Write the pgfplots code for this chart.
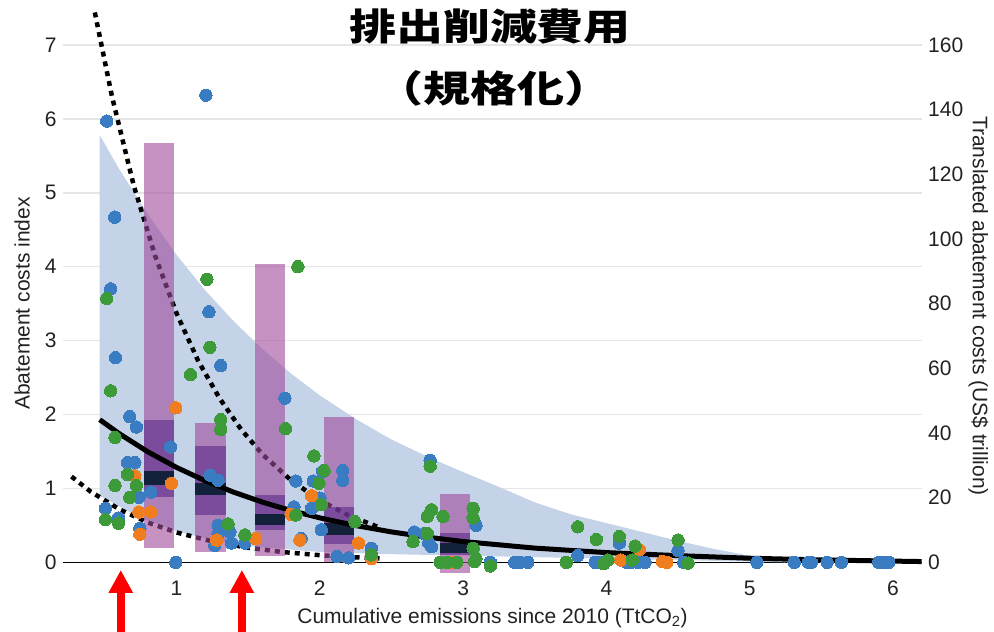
\documentclass[border=0pt]{standalone}
\usepackage{pgfplots}
\pgfplotsset{compat=1.18}
\usepackage{graphicx}
\usepackage{fontspec}
\setmainfont{Liberation Sans}
\newfontfamily\cjk{Noto Sans CJK JP}
\usetikzlibrary{arrows.meta}

\definecolor{bandblue}{HTML}{C5D3E8}
\definecolor{dotblue}{HTML}{3A7CC2}
\definecolor{dotgreen}{HTML}{3C9A38}
\definecolor{dotorange}{HTML}{F07D1E}
\definecolor{boxouter}{HTML}{A04A9A}
\definecolor{boxinner}{HTML}{5A2A8A}
\definecolor{boxmed}{HTML}{14213A}
\definecolor{gridgray}{HTML}{E6E6E6}
\definecolor{labelgray}{HTML}{222222}

\newcommand\lblfont{\fontsize{21bp}{25bp}\selectfont}

% scenario results, one table per model family
\pgfplotstableread{
x y
0.513 5.97
1.205 6.32
0.569 4.67
0.541 3.70
1.226 3.39
0.574 2.77
0.674 1.97
0.720 1.83
0.958 1.56
0.658 1.35
0.709 1.35
0.820 0.95
0.739 0.88
0.504 0.73
0.595 0.60
0.744 0.46
0.995 0.00
1.309 2.66
1.756 2.22
2.020 1.23
1.833 1.10
1.954 1.10
1.233 1.18
1.290 1.11
2.000 0.87
1.819 0.75
1.943 0.73
2.010 0.44
1.290 0.50
1.350 0.50
1.372 0.41
1.290 0.39
1.267 0.23
1.384 0.26
1.477 0.26
2.160 1.11
2.160 1.24
1.870 0.32
2.360 0.19
2.770 1.38
2.660 0.41
2.730 0.39
2.760 0.26
2.780 0.21
3.090 0.50
3.190 0.00
3.360 0.00
3.400 0.00
3.450 0.00
3.800 0.09
3.920 0.00
3.960 0.00
4.090 0.26
4.140 0.00
4.170 0.00
4.220 0.00
4.270 0.00
4.500 0.16
4.540 0.00
5.050 0.00
5.310 0.00
5.410 0.00
5.430 0.00
5.540 0.00
5.640 0.00
5.900 0.00
5.930 0.00
5.970 0.00
2.120 0.08
2.200 0.06
}\bluepts

\pgfplotstableread{
x y
0.513 3.57
1.212 3.83
1.847 4.00
0.541 2.32
1.098 2.54
0.571 1.69
0.658 1.19
0.571 1.04
0.720 1.04
0.674 0.88
0.504 0.58
0.595 0.53
1.233 2.91
1.309 1.93
1.309 1.80
1.761 1.81
1.959 1.44
1.994 1.07
2.010 0.78
1.833 0.64
1.360 0.52
1.477 0.37
2.030 1.24
2.245 0.55
2.360 0.10
2.770 1.30
2.780 0.71
2.750 0.62
2.860 0.62
2.750 0.39
2.650 0.28
3.070 0.73
3.070 0.60
3.090 0.05
3.070 0.19
2.840 0.00
2.885 0.00
2.955 0.00
3.080 0.01
3.190 -0.05
3.720 0.00
3.800 0.48
3.930 0.31
3.980 -0.02
4.090 0.35
4.010 0.03
4.200 0.22
4.180 0.03
4.500 0.30
4.570 -0.01
}\greenpts

\pgfplotstableread{
x y
0.995 2.09
0.709 1.17
0.965 1.07
0.737 0.68
0.820 0.68
0.744 0.38
1.943 0.90
1.800 0.65
1.861 0.30
1.552 0.32
1.280 0.30
2.270 0.26
2.360 0.05
2.920 0.00
4.100 0.03
4.230 0.17
4.390 0.01
4.420 0.00
}\orangepts

\pgfplotsset{
  dot/.style={only marks, mark=*, mark size=6.2bp, color=#1,
              mark options={solid, line width=0pt, draw=#1, fill=#1}},
}

\begin{document}
\begin{tikzpicture}
\useasboundingbox (0,0) rectangle (994bp,632bp);

\begin{axis}[
  at={(63.3bp,56.4bp)}, anchor=south west,
  scale only axis, width=858.4bp, height=563.9bp,
  xmin=0.21, xmax=6.2, ymin=-0.18, ymax=7.45,
  clip=false,
  axis line style={draw=none}, major tick length=0pt,
  xtick={1,...,6}, ytick={0,...,7},
  ymajorgrids, grid style={gridgray, line width=1.5bp},
  /pgf/number format/assume math mode=true,
  tick label style={font=\lblfont, text=labelgray},
  xticklabel style={anchor=center, yshift=-12.4bp},
  yticklabel style={xshift=-3.3bp},
  xlabel={Cumulative emissions since 2010 (TtCO\textsubscript{2})},
  xlabel style={at={(axis description cs:0.5,-0.0752)}, anchor=center, font=\lblfont, text=labelgray},
  ylabel={Abatement costs index},
  ylabel style={at={(axis description cs:-0.0481,0.4825)}, anchor=center, font=\lblfont, text=labelgray},
]

% zero line
\addplot[black, line width=1.4bp] coordinates {(0.21,0) (6.2,0)};

% uncertainty band
\addplot[fill=bandblue, draw=none] coordinates {
  (0.464,5.78) (0.6,5.32) (0.8,4.71) (1.0,4.16) (1.2,3.68) (1.4,3.26)
  (1.6,2.885) (1.8,2.552) (2.0,2.258) (2.25,1.94) (2.5,1.66) (2.75,1.43)
  (3.0,1.22) (3.25,1.02) (3.5,0.81) (3.75,0.65) (4.0,0.53) (4.25,0.41)
  (4.5,0.29) (4.75,0.18) (5.0,0.09) (5.15,0.03) (5.25,0.0)
  (5.0,0.01) (4.5,0.03) (4.0,0.05) (3.5,0.07) (3.0,0.09) (2.5,0.11)
  (2.0,0.14) (1.5,0.22) (1.25,0.30) (1.0,0.42) (0.75,0.60) (0.464,0.90)
};

% scenario points
\addplot[dot=dotblue] table {\bluepts};
\addplot[dot=dotorange] table {\orangepts};
\addplot[dot=dotgreen] table {\greenpts};

% upper and lower fitted bounds
\addplot[black, line width=4.5bp, dash pattern=on 5bp off 5bp] coordinates {
  (0.43,7.44) (0.55,6.30) (0.7,5.11) (0.85,4.15) (1.0,3.37) (1.15,2.73)
  (1.3,2.22) (1.45,1.80) (1.6,1.46) (1.8,1.108) (2.0,0.839) (2.2,0.635) (2.42,0.468)
};
\addplot[black, line width=4.5bp, dash pattern=on 5bp off 5bp] coordinates {
  (0.267,1.16) (0.4,0.958) (0.6,0.718) (0.8,0.538) (1.0,0.404) (1.25,0.282)
  (1.5,0.197) (1.75,0.137) (2.0,0.096) (2.2,0.072) (2.43,0.052)
};

% box summaries: range, interquartile range, median
\addplot[fill=boxouter, fill opacity=0.6, draw=none] coordinates {(0.772,0.20) (0.981,0.20) (0.981,5.67) (0.772,5.67)};
\addplot[fill=boxinner, fill opacity=0.6, draw=none] coordinates {(0.772,0.89) (0.981,0.89) (0.981,1.93) (0.772,1.93)};
\addplot[fill=boxmed, draw=none] coordinates {(0.772,1.05) (0.981,1.05) (0.981,1.23) (0.772,1.23)};

\addplot[fill=boxouter, fill opacity=0.6, draw=none] coordinates {(1.128,0.135) (1.342,0.135) (1.342,1.89) (1.128,1.89)};
\addplot[fill=boxinner, fill opacity=0.6, draw=none] coordinates {(1.128,0.64) (1.342,0.64) (1.342,1.58) (1.128,1.58)};
\addplot[fill=boxmed, draw=none] coordinates {(1.128,0.91) (1.342,0.91) (1.342,1.07) (1.128,1.07)};

\addplot[fill=boxouter, fill opacity=0.6, draw=none] coordinates {(1.545,0.085) (1.756,0.085) (1.756,4.04) (1.545,4.04)};
\addplot[fill=boxinner, fill opacity=0.6, draw=none] coordinates {(1.545,0.44) (1.756,0.44) (1.756,0.91) (1.545,0.91)};
\addplot[fill=boxmed, draw=none] coordinates {(1.545,0.50) (1.756,0.50) (1.756,0.66) (1.545,0.66)};

\addplot[fill=boxouter, fill opacity=0.6, draw=none] coordinates {(2.03,0.0) (2.24,0.0) (2.24,1.97) (2.03,1.97)};
\addplot[fill=boxinner, fill opacity=0.6, draw=none] coordinates {(2.03,0.25) (2.24,0.25) (2.24,0.75) (2.03,0.75)};
\addplot[fill=boxmed, draw=none] coordinates {(2.03,0.37) (2.24,0.37) (2.24,0.53) (2.03,0.53)};

\addplot[fill=boxouter, fill opacity=0.6, draw=none] coordinates {(2.84,-0.14) (3.05,-0.14) (3.05,0.93) (2.84,0.93)};
\addplot[fill=boxinner, fill opacity=0.6, draw=none] coordinates {(2.84,0.10) (3.05,0.10) (3.05,0.39) (2.84,0.39)};
\addplot[fill=boxmed, draw=none] coordinates {(2.84,0.12) (3.05,0.12) (3.05,0.26) (2.84,0.26)};

% central fit
\addplot[black, line width=5bp] coordinates {
  (0.464,1.93) (0.6,1.741) (0.8,1.495) (1.0,1.284) (1.2,1.103) (1.4,0.948)
  (1.6,0.814) (1.8,0.699) (2.0,0.601) (2.25,0.497) (2.5,0.411) (2.75,0.340)
  (3.0,0.281) (3.5,0.192) (4.0,0.131) (4.5,0.090) (5.0,0.055) (5.5,0.032)
  (6.0,0.016) (6.2,0.010)
};

% budget markers
\draw[red, line width=8bp, -{Triangle[width=23bp,length=23bp]}] (axis cs:0.611,-0.943) -- (axis cs:0.611,-0.104);
\draw[red, line width=8bp, -{Triangle[width=23bp,length=23bp]}] (axis cs:1.456,-0.943) -- (axis cs:1.456,-0.104);
\end{axis}

% right-hand scale in absolute terms
\begin{axis}[
  at={(63.3bp,56.4bp)}, anchor=south west,
  scale only axis, width=858.4bp, height=563.9bp,
  xmin=0.21, xmax=6.2, ymin=-4.114, ymax=170.29,
  axis x line=none, axis y line*=right,
  axis line style={draw=none}, major tick length=0pt,
  ytick={0,20,...,160},
  /pgf/number format/assume math mode=true,
  tick label style={font=\lblfont, text=labelgray},
  yticklabel style={xshift=3bp},
  ylabel={Translated abatement costs (US\$ trillion)},
  ylabel style={at={(axis description cs:1.066,0.478)}, anchor=center, rotate=180, font=\lblfont, text=labelgray},
]
\end{axis}

\node[font={\cjk\bfseries\fontsize{37bp}{44bp}\selectfont}, anchor=center, inner sep=0pt] at (490bp,605bp) {\scalebox{1.27}[1]{排出削減費用}};
\node[font={\cjk\bfseries\fontsize{37bp}{44bp}\selectfont}, anchor=center, inner sep=0pt] at (494bp,544bp) {\scalebox{1.27}[1]{（規格化）}};
\end{tikzpicture}
\end{document}
